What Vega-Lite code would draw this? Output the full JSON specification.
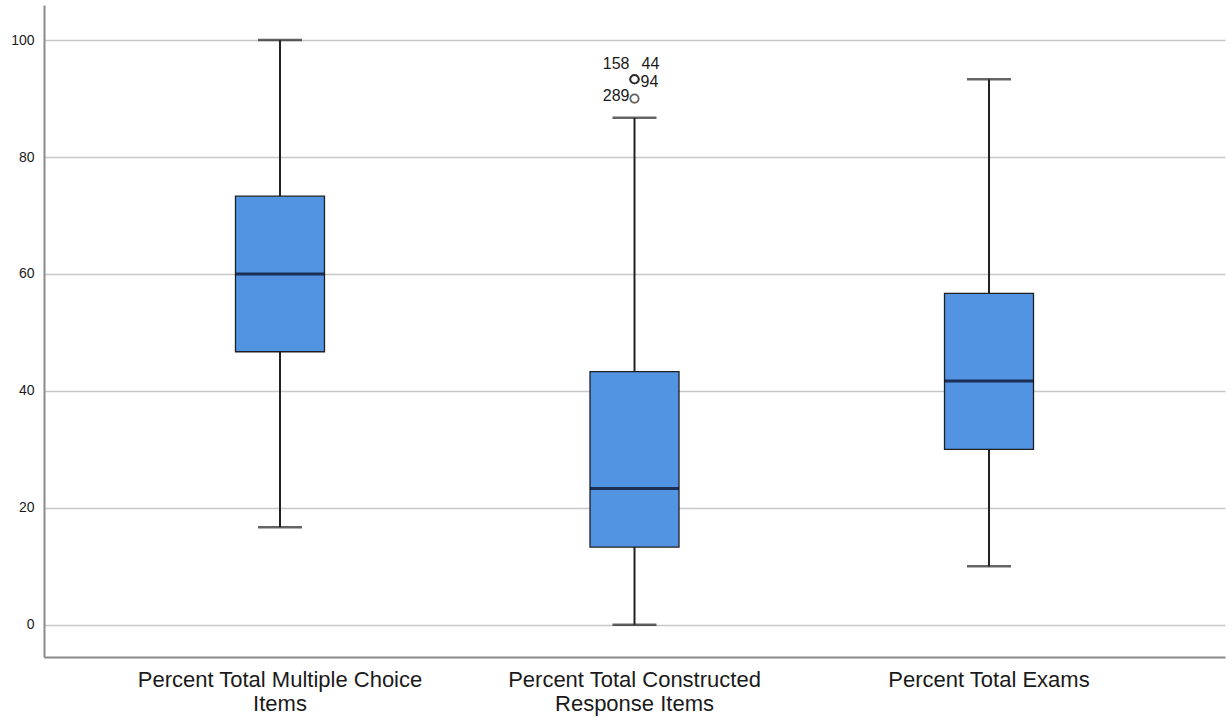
{
  "$schema": "https://vega.github.io/schema/vega-lite/v6.json",
  "width": 1181,
  "height": 652,
  "autosize": {"type": "none"},
  "padding": {"left": 44, "top": 5, "right": 7, "bottom": 62},
  "background": "white",
  "config": {
    "view": {"stroke": null},
    "font": "Liberation Sans"
  },
  "datasets": {
    "boxes": [
      {"item": "Percent Total Multiple Choice Items", "lower": 16.7, "q1": 46.7, "median": 60, "q3": 73.3, "upper": 100},
      {"item": "Percent Total Constructed Response Items", "lower": 0, "q1": 13.3, "median": 23.3, "q3": 43.3, "upper": 86.7},
      {"item": "Percent Total Exams", "lower": 10, "q1": 30, "median": 41.7, "q3": 56.7, "upper": 93.3}
    ],
    "outliers": [
      {"item": "Percent Total Constructed Response Items", "value": 93.3, "label": "158"},
      {"item": "Percent Total Constructed Response Items", "value": 93.3, "label": "44"},
      {"item": "Percent Total Constructed Response Items", "value": 93.3, "label": "94"},
      {"item": "Percent Total Constructed Response Items", "value": 90, "label": "289"}
    ]
  },
  "encoding": {
    "x": {
      "field": "item",
      "type": "nominal",
      "scale": {
        "domain": ["Percent Total Multiple Choice Items", "Percent Total Constructed Response Items", "Percent Total Exams"],
        "paddingInner": 0.5,
        "paddingOuter": 0.4157
      },
      "axis": {
        "title": null,
        "labelAngle": 0,
        "ticks": false,
        "grid": false,
        "domainColor": "#8a8a8a",
        "domainWidth": 2,
        "labelFontSize": 22,
        "labelColor": "#1a1a1a",
        "labelPadding": 12,
        "labelLineHeight": 24,
        "labelLimit": 0,
        "labelFont": "Liberation Sans",
        "labelExpr": "datum.value == 'Percent Total Multiple Choice Items' ? ['Percent Total Multiple Choice', 'Items'] : datum.value == 'Percent Total Constructed Response Items' ? ['Percent Total Constructed', 'Response Items'] : datum.value"
      }
    }
  },
  "layer": [
    {
      "data": {"name": "boxes"},
      "mark": {"type": "rule", "color": "#222222", "strokeWidth": 2},
      "encoding": {
        "y": {
          "field": "lower",
          "type": "quantitative",
          "scale": {"domain": [-5.5, 106], "nice": false, "zero": false},
          "axis": {
            "title": null,
            "values": [0, 20, 40, 60, 80, 100],
            "ticks": false,
            "grid": true,
            "gridColor": "#c8c8c8",
            "gridWidth": 1.5,
            "domainColor": "#8a8a8a",
            "domainWidth": 2,
            "labelFontSize": 14,
            "labelColor": "#1a1a1a",
            "labelPadding": 10,
            "labelFont": "Liberation Sans"
          }
        },
        "y2": {"field": "q1"}
      }
    },
    {
      "data": {"name": "boxes"},
      "mark": {"type": "rule", "color": "#222222", "strokeWidth": 2},
      "encoding": {
        "y": {"field": "q3", "type": "quantitative"},
        "y2": {"field": "upper"}
      }
    },
    {
      "data": {"name": "boxes"},
      "mark": {"type": "tick", "color": "#222222", "size": 44, "thickness": 2.5, "orient": "horizontal"},
      "encoding": {"y": {"field": "lower", "type": "quantitative"}}
    },
    {
      "data": {"name": "boxes"},
      "mark": {"type": "tick", "color": "#222222", "size": 44, "thickness": 2.5, "orient": "horizontal"},
      "encoding": {"y": {"field": "upper", "type": "quantitative"}}
    },
    {
      "data": {"name": "boxes"},
      "mark": {"type": "bar", "size": 89, "fill": "#5293E2", "stroke": "#1f1f1f", "strokeWidth": 1.3},
      "encoding": {
        "y": {"field": "q1", "type": "quantitative"},
        "y2": {"field": "q3"}
      }
    },
    {
      "data": {"name": "boxes"},
      "mark": {"type": "tick", "color": "#05051a", "size": 89, "thickness": 3, "orient": "horizontal"},
      "encoding": {"y": {"field": "median", "type": "quantitative"}}
    },
    {
      "data": {"name": "outliers"},
      "mark": {"type": "point", "shape": "circle", "filled": false, "size": 70, "stroke": "#222222", "strokeWidth": 1.8, "fill": "white"},
      "encoding": {"y": {"field": "value", "type": "quantitative"}}
    },
    {
      "data": {"name": "outliers"},
      "transform": [{"filter": "datum.label == '158'"}],
      "mark": {"type": "text", "align": "right", "baseline": "middle", "dx": -5, "dy": -15, "fontSize": 16, "color": "#1a1a1a"},
      "encoding": {"y": {"field": "value", "type": "quantitative"}, "text": {"field": "label"}}
    },
    {
      "data": {"name": "outliers"},
      "transform": [{"filter": "datum.label == '44'"}],
      "mark": {"type": "text", "align": "left", "baseline": "middle", "dx": 7, "dy": -15, "fontSize": 16, "color": "#1a1a1a"},
      "encoding": {"y": {"field": "value", "type": "quantitative"}, "text": {"field": "label"}}
    },
    {
      "data": {"name": "outliers"},
      "transform": [{"filter": "datum.label == '94'"}],
      "mark": {"type": "text", "align": "left", "baseline": "middle", "dx": 6, "dy": 3, "fontSize": 16, "color": "#1a1a1a"},
      "encoding": {"y": {"field": "value", "type": "quantitative"}, "text": {"field": "label"}}
    },
    {
      "data": {"name": "outliers"},
      "transform": [{"filter": "datum.label == '289'"}],
      "mark": {"type": "text", "align": "right", "baseline": "middle", "dx": -5, "dy": -3, "fontSize": 16, "color": "#1a1a1a"},
      "encoding": {"y": {"field": "value", "type": "quantitative"}, "text": {"field": "label"}}
    }
  ]
}
